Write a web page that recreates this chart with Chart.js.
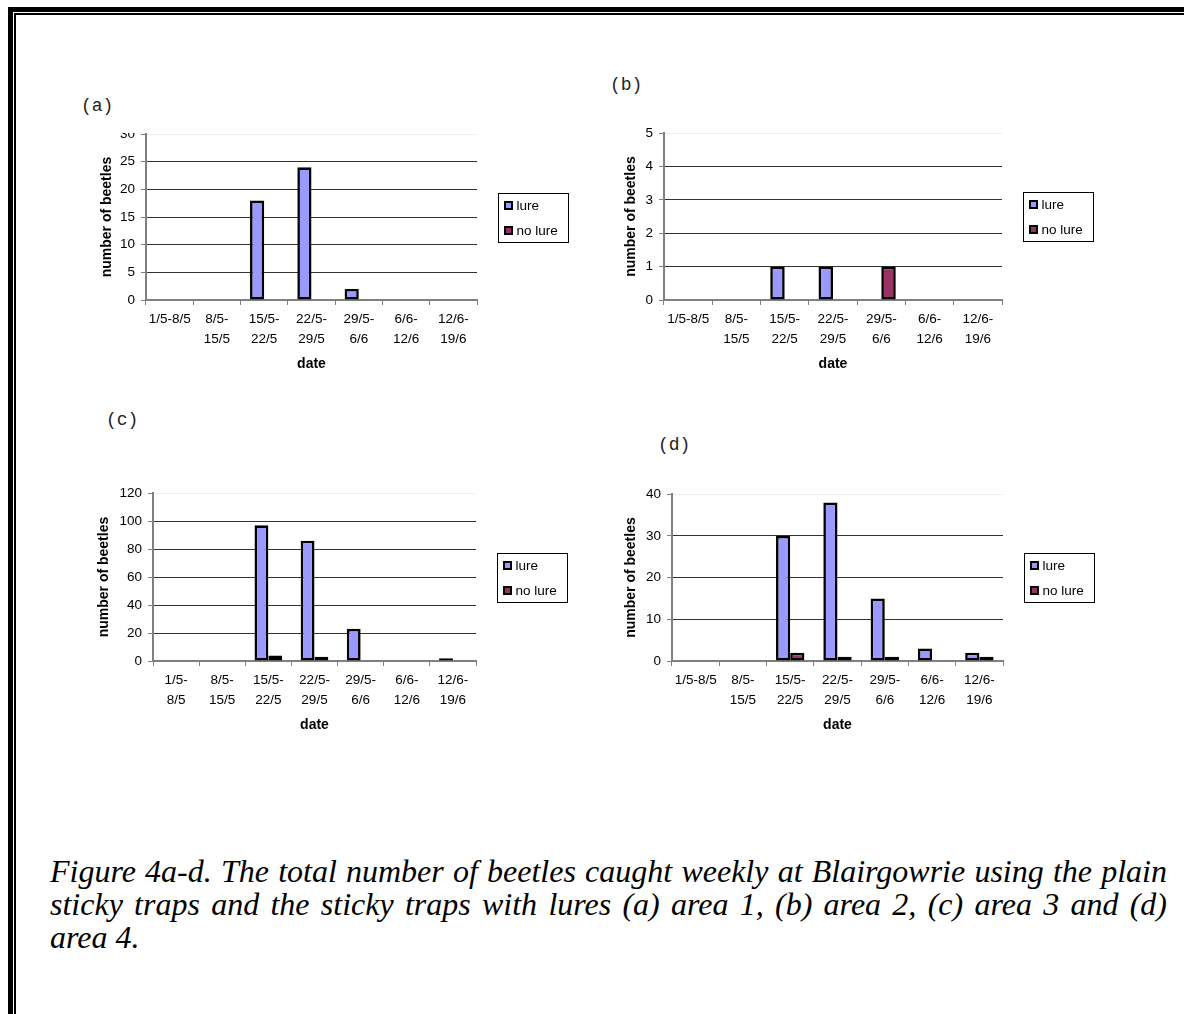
<!DOCTYPE html>
<html><head><meta charset="utf-8">
<script src="https://cdn.jsdelivr.net/npm/chart.js@4"></script>
<style>
html,body{margin:0;padding:0;background:#fff;width:1184px;height:1014px;overflow:hidden;position:relative}
.bar{position:absolute;background:#000}
.lbl{position:absolute;font-family:'Liberation Mono','Courier New',monospace;font-size:18px;color:#222;line-height:20px;white-space:nowrap}
.wrap{position:absolute;overflow:hidden}
.wrap canvas{position:absolute;left:0}
#cap{position:absolute;left:50px;top:855px;width:1117px;font-family:'Liberation Serif','Times New Roman',serif;font-style:italic;font-size:32px;line-height:33px;color:#000}
#cap .j{text-align:justify;text-align-last:justify}
</style></head>
<body>
<div class="bar" style="left:8px;top:7px;width:1176px;height:5px"></div>
<div class="bar" style="left:8px;top:7px;width:5px;height:1007px"></div>
<div class="bar" style="left:14px;top:13px;width:1170px;height:2px"></div>
<div class="bar" style="left:14px;top:13px;width:2px;height:1001px"></div>

<div class="lbl" style="left:81px;top:96px">(a)</div>
<div class="lbl" style="left:610px;top:75px">(b)</div>
<div class="lbl" style="left:106px;top:410px">(c)</div>
<div class="lbl" style="left:658px;top:435px">(d)</div>

<div id="cap">
<div class="j">Figure 4a-d. The total number of beetles caught weekly at Blairgowrie using the plain</div>
<div class="j">sticky traps and the sticky traps with lures (a) area 1, (b) area 2, (c) area 3 and (d)</div>
<div>area 4.</div>
</div>

<script>
// ---- data ----
const weekLabels = ['1/5-8/5', ['8/5-','15/5'], ['15/5-','22/5'], ['22/5-','29/5'], ['29/5-','6/6'], ['6/6-','12/6'], ['12/6-','19/6']];
const weekLabelsC = [['1/5-','8/5'], ['8/5-','15/5'], ['15/5-','22/5'], ['22/5-','29/5'], ['29/5-','6/6'], ['6/6-','12/6'], ['12/6-','19/6']];
const seriesNames = ['lure', 'no lure'];

const lureA   = [0, 0, 18, 24, 2, 0, 0];
const noLureA = [0, 0, 0, 0, 0, 0, 0];
const lureB   = [0, 0, 1, 1, 0, 0, 0];
const noLureB = [0, 0, 0, 0, 1, 0, 0];
const lureC   = [0, 0, 97, 86, 23, 0, 2];
const noLureC = [0, 0, 4, 3, 0, 0, 0];
const lureD   = [0, 0, 30, 38, 15, 3, 2];
const noLureD = [0, 0, 2, 1, 1, 0, 1];

const yMaxA = 30, yStepA = 5;
const yMaxB = 5, yStepB = 1;
const yMaxC = 120, yStepC = 20;
const yMaxD = 40, yStepD = 10;

const yTitle = 'number of beetles';
const xTitle = 'date';

// ---- styles ----
const lureColor = '#9999FF';
const noLureColor = '#993366';
Chart.defaults.font.family = "'Liberation Sans', Arial, sans-serif";

const YW = 90, XH = 80, PT = 12, PR = 100;

const boxLegend = {
  id: 'boxLegend',
  afterDraw(chart) {
    const ctx = chart.ctx, a = chart.chartArea;
    const w = 70, h = 49;
    const x = Math.round(a.right + 21) + 0.5;
    const y = Math.round((a.top + a.bottom) / 2 - h / 2) + 0.5;
    ctx.save();
    ctx.strokeStyle = '#000'; ctx.lineWidth = 1;
    ctx.strokeRect(x, y, w, h);
    chart.data.datasets.forEach((ds, i) => {
      const cy = Math.round(y + 11.5 + i * 24.5);
      ctx.fillStyle = ds.backgroundColor;
      ctx.fillRect(x + 5.5, cy - 4, 9, 9);
      ctx.lineWidth = 2; ctx.strokeStyle = '#000';
      ctx.strokeRect(x + 6.5, cy - 3, 7, 7);
      ctx.fillStyle = '#000';
      ctx.font = "13.5px 'Liberation Sans', Arial, sans-serif";
      ctx.textBaseline = 'middle';
      ctx.fillText(ds.label, x + 18, cy + 1);
    });
    ctx.restore();
  }
};

function makeChart(labels, lure, noLure, yMax, yStep, g) {
  const cLeft = g.left - YW;
  const cTop = g.top - PT;
  const W = g.right - cLeft + PR;
  const H = (g.bottom - g.top) + PT + XH;
  const wrapTop = g.clipTop !== undefined ? g.clipTop : cTop;
  const wrap = document.createElement('div');
  wrap.className = 'wrap';
  wrap.style.left = cLeft + 'px';
  wrap.style.top = wrapTop + 'px';
  wrap.style.width = W + 'px';
  wrap.style.height = (cTop + H - wrapTop) + 'px';
  const cv = document.createElement('canvas');
  cv.width = W; cv.height = H;
  cv.style.top = (cTop - wrapTop) + 'px';
  wrap.appendChild(cv);
  document.body.appendChild(wrap);

  new Chart(cv, {
    type: 'bar',
    data: {
      labels: labels,
      datasets: [
        { label: seriesNames[0], data: lure, backgroundColor: lureColor },
        { label: seriesNames[1], data: noLure, backgroundColor: noLureColor }
      ].map(d => Object.assign(d, {
        borderColor: '#000', borderWidth: 2.6, borderSkipped: false,
        categoryPercentage: 0.6, barPercentage: 1.0
      }))
    },
    options: {
      responsive: false, animation: false, devicePixelRatio: 1,
      layout: { padding: { top: PT, right: PR, bottom: 0, left: 0 } },
      plugins: { legend: { display: false }, tooltip: { enabled: false } },
      scales: {
        x: {
          offset: true,
          grid: { drawOnChartArea: false, drawTicks: true, tickLength: 5, tickColor: '#808080', offset: true },
          border: { color: '#808080', width: 2 },
          ticks: { color: '#000', font: { size: 13.5, lineHeight: 1.48 }, padding: 4.5, maxRotation: 0, autoSkip: false },
          title: { display: true, text: xTitle, color: '#000', font: { size: 14, weight: 'bold', lineHeight: 1.2 }, padding: { top: 0, bottom: 7.3 } },
          afterFit(s) { s.height = XH; }
        },
        y: {
          min: 0, max: yMax,
          ticks: { stepSize: yStep, color: '#000', font: { size: 13.5, lineHeight: 1.2 }, padding: 6 },
          grid: {
            color: (c) => (c.tick && c.tick.value === yMax) ? '#eeeeee' : ((c.tick && c.tick.value === 0) ? '#808080' : '#333333'),
            tickColor: '#808080', tickLength: 5, lineWidth: 1
          },
          border: { color: '#808080', width: 2 },
          title: { display: true, text: yTitle, color: '#000', font: { size: 14, weight: 'bold', lineHeight: 1.2 }, padding: { top: YW - g.titleOff - 8.4, bottom: 0 } },
          afterFit(s) { s.width = YW; }
        }
      }
    },
    plugins: [boxLegend]
  });
}

makeChart(weekLabels, lureA, noLureA, yMaxA, yStepA, { left: 146, right: 477, top: 132, bottom: 300, titleOff: 39, clipTop: 133 });
makeChart(weekLabels, lureB, noLureB, yMaxB, yStepB, { left: 664, right: 1002, top: 131, bottom: 300, titleOff: 32.6 });
makeChart(weekLabelsC, lureC, noLureC, yMaxC, yStepC, { left: 153, right: 476, top: 491, bottom: 661, titleOff: 49.3 });
makeChart(weekLabels, lureD, noLureD, yMaxD, yStepD, { left: 672, right: 1003, top: 492, bottom: 661, titleOff: 40.6 });
</script>
</body></html>
